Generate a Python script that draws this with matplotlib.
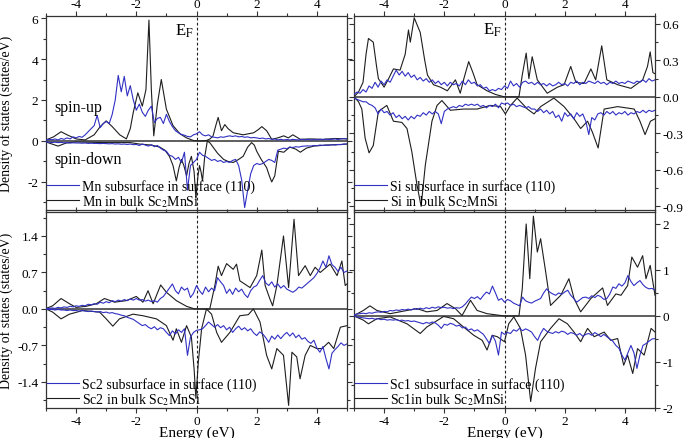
import matplotlib
matplotlib.use('Agg')
import matplotlib.pyplot as plt
from matplotlib.ticker import MultipleLocator, FormatStrFormatter
import numpy as np

plt.rcParams['font.family'] = ['Liberation Serif', 'DejaVu Serif']
plt.rcParams['mathtext.fontset'] = 'stix'
plt.rcParams['axes.unicode_minus'] = False

# ---------------- data ----------------
# common fine energy grid (eV) for the surface (blue) curves
energy_grid = np.round(np.arange(-5.0, 5.0001, 0.1), 1)

# Mn panel
mn_surf_up = [0.05, 0.08, 0.06, 0.1, 0.05, 0.12, 0.08, 0.15, 0.1, 0.2, 0.15, 0.22, 0.18, 0.3, 0.45, 0.6, 0.75,
              1.25, 0.65, 0.85, 0.95, 0.85, 1.3, 2.0, 3.2, 2.4, 3.15, 2.2, 2.7, 2.0, 1.5, 1.8, 1.4, 1.2, 1.5, 1.7,
              0.9, 1.1, 1.15, 0.85, 1.3, 0.95, 0.7, 0.5, 0.4, 0.32, 0.28, 0.22, 0.2, 0.3, 0.35, 0.45, 0.3, 0.25,
              0.3, 0.2, 0.18, 0.15, 0.2, 0.18, 0.22, 0.25, 0.22, 0.25, 0.2, 0.22, 0.18, 0.2, 0.15, 0.17, 0.15,
              0.12, 0.14, 0.1, 0.12, 0.08, 0.1, 0.05, 0.08, 0.05, 0.07, 0.05, 0.08, 0.06, 0.05, 0.08, 0.06, 0.08,
              0.05, 0.07, 0.05, 0.08, 0.06, 0.09, 0.07, 0.08, 0.1, 0.07, 0.1, 0.12, 0.1]
mn_surf_dn = [-0.05, -0.06, -0.08, -0.06, -0.08, -0.07, -0.09, -0.08, -0.1, -0.09, -0.1, -0.1, -0.11, -0.1, -0.12,
              -0.11, -0.12, -0.12, -0.13, -0.12, -0.13, -0.14, -0.13, -0.15, -0.14, -0.16, -0.15, -0.17, -0.15,
              -0.18, -0.17, -0.22, -0.15, -0.2, -0.25, -0.18, -0.28, -0.22, -0.35, -0.45, -0.5, -0.7, -0.75, -0.9,
              -0.8, -1.05, -0.55, -2.4, -1.2, -1.05, -0.9, -0.55, -0.7, -0.75, -0.85, -0.95, -0.9, -1.0, -0.95,
              -1.05, -1.0, -1.05, -0.95, -0.9, -1.2, -1.9, -3.25, -2.4, -1.6, -1.2, -1.1, -1.15, -1.1, -1.0, -0.9,
              -0.95, -1.05, -0.45, -0.4, -0.35, -0.38, -0.3, -0.32, -0.28, -0.3, -0.26, -0.25, -0.24, -0.25, -0.22,
              -0.23, -0.2, -0.22, -0.2, -0.21, -0.18, -0.2, -0.17, -0.18, -0.15, -0.15]
mn_bulk_up_e = [-5.0, -4.75, -4.5, -4.3, -4.0, -3.7, -3.4, -3.2, -3.0, -2.8, -2.55, -2.33, -2.2, -2.1, -1.95, -1.8,
                -1.68, -1.58, -1.5, -1.42, -1.3, -1.17, -1.0, -0.78, -0.55, -0.33, -0.1, 0.1, 0.33, 0.45, 0.55,
                0.65, 0.72, 0.83, 0.94, 1.05, 1.22, 1.55, 1.9, 2.05, 2.17, 2.33, 2.5, 2.7, 2.9, 3.05, 3.2, 3.45,
                3.8, 4.2, 4.6, 5.0]
mn_bulk_up = [0.05, 0.2, 0.45, 0.3, 0.1, 0.05, 0.3, 0.7, 0.98, 0.7, 0.3, 0.1, 0.6, 1.4, 2.35, 1.7, 2.5, 5.9, 2.5,
              0.25, 1.8, 3.0, 1.55, 0.75, 0.35, 0.15, 0.02, 0.0, 0.02, 0.1, 0.25, 0.8, 1.15, 0.5, 0.8, 0.6, 0.4,
              0.3, 0.4, 0.55, 0.7, 0.5, 0.08, 0.15, 0.25, 0.15, 0.3, 0.08, 0.1, 0.08, 0.12, 0.1]
mn_bulk_dn_e = [-5.0, -4.8, -4.6, -4.33, -4.0, -3.0, -2.2, -1.9, -1.5, -1.22, -1.05, -0.9, -0.78, -0.67, -0.58, -0.5,
                -0.42, -0.33, -0.25, -0.17, -0.08, -0.02, 0.05, 0.1, 0.15, 0.2, 0.27, 0.36, 0.45, 0.55, 0.7, 0.9,
                1.05, 1.22, 1.4, 1.55, 1.7, 1.83, 1.92, 2.0, 2.15, 2.33, 2.42, 2.5, 2.6, 2.72, 2.9, 3.1, 3.3,
                3.45, 3.65, 3.9, 4.3, 4.7, 5.0]
mn_bulk_dn = [-0.05, -0.15, -0.25, -0.1, -0.05, -0.08, -0.08, -0.15, -0.2, -0.3, -0.45, -0.75, -1.2, -1.95, -1.3,
              -0.9, -1.2, -1.7, -1.1, -0.75, -1.5, -2.8, -1.7, -1.2, -1.5, -1.95, -0.8, 0.0, -0.1, -0.3, -0.6,
              -0.9, -1.0, -1.05, -0.9, -0.75, -0.3, -0.08, -0.2, -0.5, -0.9, -1.3, -1.7, -2.0, -1.7, -0.5, -0.55,
              -0.3, -0.4, -0.55, -0.35, -0.25, -0.2, -0.18, -0.15]

# Si panel
si_surf_up = [0.02, 0.04, 0.03, 0.06, 0.04, 0.09, 0.07, 0.12, 0.08, 0.13, 0.1, 0.14, 0.12, 0.17, 0.22, 0.18, 0.21,
              0.17, 0.2, 0.16, 0.18, 0.14, 0.16, 0.13, 0.15, 0.12, 0.14, 0.11, 0.13, 0.1, 0.12, 0.09, 0.12, 0.1,
              0.11, 0.09, 0.13, 0.1, 0.14, 0.11, 0.12, 0.09, 0.1, 0.07, 0.08, 0.05, 0.06, 0.05, 0.07, 0.06, 0.09,
              0.07, 0.13, 0.09, 0.11, 0.08, 0.12, 0.13, 0.11, 0.12, 0.1, 0.12, 0.1, 0.11, 0.09, 0.11, 0.09, 0.1,
              0.12, 0.1, 0.11, 0.09, 0.12, 0.11, 0.13, 0.1, 0.12, 0.11, 0.13, 0.12, 0.11, 0.13, 0.11, 0.12, 0.1,
              0.12, 0.11, 0.13, 0.11, 0.12, 0.11, 0.13, 0.12, 0.11, 0.13, 0.12, 0.14, 0.12, 0.15, 0.13, 0.14]
si_surf_dn = [-0.01, -0.02, -0.03, -0.04, -0.04, -0.06, -0.07, -0.09, -0.14, -0.1, -0.13, -0.12, -0.15, -0.13,
              -0.17, -0.15, -0.18, -0.16, -0.19, -0.16, -0.18, -0.15, -0.16, -0.13, -0.15, -0.12, -0.14, -0.12,
              -0.14, -0.22, -0.12, -0.1, -0.09, -0.08, -0.09, -0.07, -0.08, -0.06, -0.07, -0.06, -0.07, -0.06,
              -0.08, -0.07, -0.09, -0.07, -0.08, -0.06, -0.09, -0.05, -0.06, -0.05, -0.07, -0.06, -0.08, -0.07,
              -0.08, -0.09, -0.08, -0.1, -0.1, -0.12, -0.1, -0.13, -0.11, -0.14, -0.12, -0.17, -0.15, -0.2, -0.13,
              -0.16, -0.14, -0.18, -0.13, -0.16, -0.14, -0.2, -0.31, -0.17, -0.19, -0.14, -0.13, -0.15, -0.12,
              -0.14, -0.12, -0.15, -0.13, -0.14, -0.12, -0.15, -0.13, -0.14, -0.12, -0.13, -0.11, -0.13, -0.11,
              -0.12, -0.11]
si_bulk_up_e = [-5.0, -4.85, -4.7, -4.6, -4.52, -4.36, -4.25, -4.19, -4.0, -3.85, -3.69, -3.47, -3.3, -3.19, -3.13,
                -3.0, -2.8, -2.65, -2.56, -2.36, -2.13, -1.9, -1.63, -1.47, -1.35, -1.19, -1.05, -0.91, -0.58,
                -0.3, 0.0, 0.48, 0.59, 0.72, 0.81, 0.92, 1.09, 1.42, 1.76, 1.98, 2.2, 2.37, 2.64, 2.87, 3.03,
                3.23, 3.4, 3.76, 4.2, 4.59, 4.75, 4.84, 4.93, 5.0]
si_bulk_up = [0.0, 0.04, 0.12, 0.35, 0.48, 0.45, 0.25, 0.15, 0.08, 0.15, 0.23, 0.22, 0.35, 0.55, 0.45, 0.65, 0.53,
              0.3, 0.18, 0.1, 0.08, 0.05, 0.14, 0.03, 0.15, 0.29, 0.2, 0.1, 0.05, 0.02, 0.0, 0.0, 0.18, 0.36, 0.15,
              0.33, 0.14, 0.03, 0.08, 0.1, 0.25, 0.12, 0.11, 0.23, 0.14, 0.42, 0.14, 0.1, 0.07, 0.14, 0.25, 0.37,
              0.2, 0.19]
si_bulk_dn_e = [-5.0, -4.85, -4.74, -4.63, -4.5, -4.36, -4.19, -3.91, -3.69, -3.41, -3.24, -3.08, -2.91, -2.77,
                -2.63, -2.41, -2.24, -2.08, -1.8, -1.36, -0.91, -0.47, -0.13, 0.03, 0.2, 0.42, 0.76, 0.98, 1.2,
                1.64, 1.98, 2.31, 2.53, 2.76, 2.92, 3.11, 3.31, 3.76, 4.31, 4.5, 4.67, 4.85, 5.0]
si_bulk_dn = [0.0, -0.04, -0.1, -0.34, -0.46, -0.4, -0.12, -0.07, -0.2, -0.21, -0.26, -0.45, -0.72, -0.9, -0.56,
              -0.2, -0.07, -0.03, -0.11, -0.1, -0.1, -0.07, -0.08, -0.14, -0.07, -0.01, -0.1, -0.14, -0.08, -0.01,
              -0.08, -0.18, -0.26, -0.2, -0.29, -0.42, -0.1, -0.08, -0.1, -0.2, -0.31, -0.2, -0.18]

# Sc2 panel
sc2_surf_up = [0.0, 0.01, 0.02, 0.01, 0.03, 0.02, 0.04, 0.03, 0.05, 0.04, 0.06, 0.05, 0.07, 0.06, 0.09, 0.08, 0.1,
               0.09, 0.13, 0.11, 0.14, 0.12, 0.16, 0.14, 0.17, 0.15, 0.18, 0.16, 0.19, 0.17, 0.2, 0.17, 0.18, 0.15,
               0.17, 0.14, 0.16, 0.13, 0.2, 0.24, 0.32, 0.4, 0.48, 0.35, 0.29, 0.42, 0.36, 0.4, 0.22, 0.3, 0.45,
               0.35, 0.28, 0.42, 0.33, 0.4, 0.35, 0.6, 0.52, 0.45, 0.3, 0.38, 0.28, 0.4, 0.33, 0.38, 0.28, 0.22,
               0.35, 0.42, 0.45, 0.55, 0.64, 0.5, 0.45, 0.52, 0.42, 0.48, 0.4, 0.45, 0.38, 0.35, 0.32, 0.36, 0.42,
               0.4, 0.45, 0.5, 0.55, 0.6, 0.68, 0.78, 0.92, 0.8, 1.02, 0.85, 0.8, 0.72, 0.8, 0.7, 0.73]
sc2_surf_dn = [0.0, -0.01, -0.01, -0.02, -0.01, -0.02, -0.02, -0.03, -0.02, -0.03, -0.03, -0.04, -0.03, -0.04,
               -0.05, -0.04, -0.05, -0.06, -0.05, -0.07, -0.06, -0.08, -0.07, -0.09, -0.1, -0.12, -0.13, -0.16,
               -0.18, -0.2, -0.24, -0.28, -0.32, -0.3, -0.35, -0.38, -0.34, -0.4, -0.36, -0.38, -0.45, -0.51,
               -0.42, -0.48, -0.4, -0.45, -0.38, -0.89, -0.54, -0.45, -0.41, -0.4, -0.38, -0.32, -0.25, -0.3,
               -0.35, -0.3, -0.36, -0.32, -0.4, -0.35, -0.45, -0.38, -0.33, -0.4, -0.36, -0.42, -0.38, -0.46,
               -0.51, -0.44, -0.48, -0.55, -0.64, -0.52, -0.58, -0.5, -0.57, -0.5, -0.45, -0.52, -0.46, -0.55,
               -0.5, -0.58, -0.55, -0.62, -0.66, -0.6, -0.75, -0.83, -0.72, -0.95, -1.15, -0.85, -0.78, -0.72,
               -0.65, -0.7, -0.67]
sc2_bulk_up_e = [-5.0, -4.78, -4.5, -4.22, -4.0, -3.67, -3.33, -3.06, -2.72, -2.33, -2.0, -1.78, -1.61, -1.44,
                 -1.19, -1.0, -0.67, -0.33, -0.06, 0.44, 0.61, 0.72, 0.83, 1.0, 1.22, 1.33, 1.44, 1.78, 2.0,
                 2.17, 2.28, 2.44, 2.53, 2.67, 2.89, 3.06, 3.24, 3.39, 3.61, 3.78, 3.94, 4.11, 4.44, 4.67, 4.83,
                 4.94, 5.0]
sc2_bulk_up = [0.01, 0.06, 0.2, 0.1, 0.03, 0.05, 0.1, 0.2, 0.13, 0.16, 0.24, 0.13, 0.35, 0.1, 0.46, 0.32, 0.16,
               0.05, 0.0, 0.0, 0.45, 0.82, 0.64, 0.87, 0.76, 0.86, 0.54, 0.41, 0.64, 1.13, 0.45, 0.19, 0.06, 0.45,
               1.4, 0.41, 1.72, 0.64, 0.83, 0.64, 0.8, 0.7, 0.86, 0.64, 0.92, 0.45, 0.48]
sc2_bulk_dn_e = [-5.0, -4.78, -4.5, -4.22, -3.78, -3.22, -3.0, -2.78, -2.56, -2.11, -1.78, -1.33, -1.0, -0.78,
                 -0.67, -0.5, -0.33, -0.17, -0.08, -0.02, 0.06, 0.17, 0.33, 0.5, 0.67, 0.83, 1.11, 1.44, 1.72,
                 1.89, 2.11, 2.33, 2.5, 2.67, 2.89, 3.06, 3.17, 3.33, 3.44, 3.61, 3.78, 4.0, 4.17, 4.39, 4.56,
                 4.78, 5.0]
sc2_bulk_dn = [0.0, -0.06, -0.19, -0.1, -0.03, -0.06, -0.19, -0.33, -0.19, -0.1, -0.13, -0.19, -0.32, -0.6, -0.38,
               -0.64, -0.32, -0.54, -1.15, -1.72, -1.02, -0.38, 0.0, -0.1, -0.45, -0.64, -0.45, -0.13, -0.11, 0.0,
               -0.25, -0.89, -1.15, -0.76, -0.89, -1.85, -0.83, -0.92, -1.34, -0.89, -0.7, -0.76, -0.76, -0.64,
               -0.76, -0.35, -0.32]

# Sc1 panel
sc1_surf_up = [0.03, 0.04, 0.05, 0.06, 0.05, 0.07, 0.06, 0.08, 0.09, 0.08, 0.1, 0.09, 0.12, 0.11, 0.13, 0.12, 0.14,
               0.13, 0.15, 0.13, 0.16, 0.14, 0.17, 0.15, 0.18, 0.16, 0.19, 0.17, 0.2, 0.18, 0.19, 0.17, 0.18, 0.16,
               0.18, 0.17, 0.2, 0.26, 0.34, 0.41, 0.38, 0.42, 0.36, 0.45, 0.52, 0.48, 0.65, 0.5, 0.34, 0.38, 0.3,
               0.36, 0.33, 0.28, 0.25, 0.22, 0.41, 0.33, 0.3, 0.28, 0.32, 0.35, 0.38, 0.5, 0.59, 0.52, 0.48, 0.45,
               0.5, 0.47, 0.52, 0.56, 0.45, 0.38, 0.3, 0.35, 0.4, 0.41, 0.38, 0.44, 0.4, 0.45, 0.42, 0.36, 0.38,
               0.48, 0.63, 0.6, 0.7, 0.65, 0.72, 0.88, 0.75, 0.66, 0.72, 0.77, 0.68, 0.62, 0.59, 0.6, 0.56]
sc1_surf_dn = [0.0, -0.02, -0.03, -0.04, -0.05, -0.06, -0.05, -0.07, -0.06, -0.08, -0.07, -0.09, -0.08, -0.09,
               -0.08, -0.1, -0.09, -0.11, -0.1, -0.12, -0.11, -0.13, -0.15, -0.17, -0.14, -0.16, -0.13, -0.15,
               -0.2, -0.27, -0.18, -0.2, -0.16, -0.18, -0.22, -0.2, -0.26, -0.24, -0.31, -0.28, -0.33, -0.3,
               -0.35, -0.4, -0.5, -0.6, -0.42, -0.55, -0.85, -0.35, -0.4, -0.36, -0.38, -0.3, -0.33, -0.27, -0.32,
               -0.28, -0.31, -0.35, -0.45, -0.53, -0.38, -0.27, -0.33, -0.36, -0.38, -0.34, -0.37, -0.33, -0.35,
               -0.4, -0.36, -0.38, -0.42, -0.38, -0.44, -0.4, -0.38, -0.42, -0.36, -0.4, -0.45, -0.4, -0.45, -0.5,
               -0.55, -0.64, -0.7, -0.85, -0.96, -0.8, -0.64, -0.8, -1.14, -0.85, -0.64, -0.6, -0.55, -0.5, -0.49]
sc1_bulk_up_e = [-5.0, -4.69, -4.47, -4.24, -3.8, -3.24, -2.91, -2.58, -2.24, -1.91, -1.63, -1.41, -1.13, -0.91,
                 -0.58, 0.0, 0.48, 0.59, 0.72, 0.84, 0.96, 1.09, 1.2, 1.37, 1.53, 1.87, 2.14, 2.31, 2.53, 2.87,
                 3.26, 3.42, 3.7, 3.87, 4.09, 4.23, 4.42, 4.59, 4.7, 4.84, 5.0]
sc1_bulk_up = [0.01, 0.12, 0.22, 0.12, 0.05, 0.12, 0.16, 0.09, 0.12, 0.27, 0.16, 0.01, 0.34, 0.12, 0.05, 0.0, 0.0,
               0.59, 2.0, 0.81, 2.17, 1.39, 1.68, 0.95, 0.23, 0.45, 0.81, 0.38, 0.09, 0.38, 0.61, 0.23, 0.48, 0.45,
               0.66, 1.28, 1.06, 1.31, 0.81, 1.1, 0.45]
sc1_bulk_dn_e = [-5.0, -4.69, -4.52, -4.24, -3.8, -3.24, -2.8, -2.58, -2.02, -1.69, -1.36, -1.02, -0.74, -0.58,
                 -0.41, -0.24, 0.0, 0.14, 0.31, 0.53, 0.7, 0.87, 1.03, 1.2, 1.53, 1.81, 2.09, 2.31, 2.53, 2.76,
                 2.98, 3.31, 3.53, 3.76, 3.96, 4.09, 4.26, 4.42, 4.64, 4.87, 5.0]
sc1_bulk_dn = [0.0, -0.09, -0.17, -0.06, -0.02, -0.17, -0.38, -0.24, -0.01, -0.06, -0.24, -0.42, -0.53, -0.74,
               -0.42, -0.45, -0.56, -0.17, -0.02, -0.27, -0.85, -1.86, -1.14, -0.56, -0.27, -0.06, -0.17, -0.35,
               -0.56, -0.27, -0.45, -0.35, -0.53, -0.49, -1.07, -0.85, -1.25, -0.71, -0.85, -0.27, -0.35]

labels_surf = ['Mn subsurface in surface (110)', 'Si subsurface in surface (110)',
               'Sc2 subsurface in surface (110)', 'Sc1 subsurface in surface (110)']
labels_bulk = ['Mn in bulk Sc$_2$MnSi', 'Si in bulk Sc$_2$MnSi',
               'Sc2 in bulk Sc$_2$MnSi', 'Sc1in bulk Sc$_2$MnSi']
yticks = [[-2, 0, 2, 4, 6], [-0.9, -0.6, -0.3, 0.0, 0.3, 0.6], [-1.4, -0.7, 0.0, 0.7, 1.4], [-2, -1, 0, 1, 2]]
xticks = [-4, -2, 0, 2, 4]

# ---------------- styling ----------------
BLUE = '#3030c4'
BLACK = '#1e1e1e'
W, H = 685, 439
fig = plt.figure(figsize=(W / 100, H / 100), dpi=100)


def pax(x0, y0, x1, y1):
    return fig.add_axes([x0 / W, 1 - y1 / H, (x1 - x0) / W, (y1 - y0) / H])


axes = [pax(46, 17, 347, 211), pax(354, 17, 655, 211), pax(46, 213, 347, 409), pax(354, 213, 655, 409)]
ylims = [(-3.37, 6.1), (-0.93, 0.665), (-1.9, 1.86), (-2.0, 2.26)]
yminor = [1, 0.15, 0.35, 0.5]
yfmt = ['%d', '%.1f', '%.1f', '%d']

panels = [
    (mn_surf_up, mn_surf_dn, mn_bulk_up_e, mn_bulk_up, mn_bulk_dn_e, mn_bulk_dn),
    (si_surf_up, si_surf_dn, si_bulk_up_e, si_bulk_up, si_bulk_dn_e, si_bulk_dn),
    (sc2_surf_up, sc2_surf_dn, sc2_bulk_up_e, sc2_bulk_up, sc2_bulk_dn_e, sc2_bulk_dn),
    (sc1_surf_up, sc1_surf_dn, sc1_bulk_up_e, sc1_bulk_up, sc1_bulk_dn_e, sc1_bulk_dn),
]

for i, ax in enumerate(axes):
    su, sd, bue, bu, bde, bd = panels[i]
    ax.axhline(0, color='#333333', lw=1.1, zorder=1)
    ax.axvline(0, color='#222222', lw=0.8, ls=(0, (2.5, 2)), zorder=1)
    l1, = ax.plot(energy_grid, su, color=BLUE, lw=0.8, label=labels_surf[i], zorder=3)
    ax.plot(energy_grid, sd, color=BLUE, lw=0.8, zorder=3)
    l2, = ax.plot(bue, bu, color=BLACK, lw=0.8, label=labels_bulk[i], zorder=2)
    ax.plot(bde, bd, color=BLACK, lw=0.8, zorder=2)
    ax.set_xlim(-5, 5)
    ax.set_ylim(*ylims[i])
    ax.set_xticks(xticks)
    ax.set_yticks(yticks[i])
    ax.xaxis.set_minor_locator(MultipleLocator(1))
    ax.yaxis.set_minor_locator(MultipleLocator(yminor[i]))
    ax.yaxis.set_major_formatter(FormatStrFormatter(yfmt[i]))
    top = i < 2
    left = i % 2 == 0
    ax.tick_params(which='both', direction='out', top=True, bottom=True, left=True, right=True,
                   labeltop=top, labelbottom=not top, labelleft=left, labelright=not left,
                   labelsize=9.5, color='#333333', width=0.8)
    ax.tick_params(which='major', length=3.5)
    ax.tick_params(which='minor', length=2)
    ax.tick_params(axis='x', pad=1 if top else 1.5)
    ax.tick_params(axis='y', pad=2)
    for s in ax.spines.values():
        s.set_color('#333333')
        s.set_linewidth(0.9)
    leg = ax.legend(handles=[l1, l2], loc='lower left', bbox_to_anchor=(0.0, 0.0), borderaxespad=0.1,
                    borderpad=0.0, frameon=False, fontsize=10, handlelength=2.3, handletextpad=0.2,
                    labelspacing=0.0)
    if left:
        ax.set_ylabel('Density of states (states/eV)', fontsize=10)
        ax.yaxis.set_label_coords(-0.108, 0.5)
    if not top:
        ax.set_xlabel('Energy (eV)', fontsize=11, labelpad=-1)

axes[0].text(-0.1, 5.2, 'E$_\\mathrm{F}$', fontsize=12, ha='right', va='baseline')
axes[1].text(-0.1, 0.52, 'E$_\\mathrm{F}$', fontsize=12, ha='right', va='baseline')
axes[0].text(-4.73, 1.66, 'spin-up', fontsize=11.5, ha='left', va='center')
axes[0].text(-4.73, -0.88, 'spin-down', fontsize=11.5, ha='left', va='center')

fig.savefig('out.png', dpi=100)
